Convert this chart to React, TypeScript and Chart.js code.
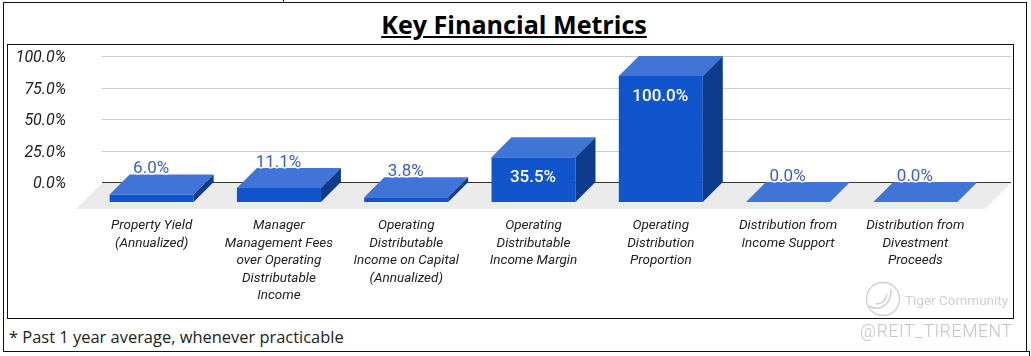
import React, { useEffect, useRef } from "react";
import { Chart, registerables } from "chart.js";

Chart.register(...registerables);

const categories: string[][] = [
  ["Property Yield", "(Annualized)"],
  ["Manager", "Management Fees", "over Operating", "Distributable", "Income"],
  ["Operating", "Distributable", "Income on Capital", "(Annualized)"],
  ["Operating", "Distributable", "Income Margin"],
  ["Operating", "Distribution", "Proportion"],
  ["Distribution from", "Income Support"],
  ["Distribution from", "Divestment", "Proceeds"],
];
const metricValues: number[] = [6.0, 11.1, 3.8, 35.5, 100.0, 0.0, 0.0];
const yTicks: number[] = [0, 25, 50, 75, 100];

const FRONT = "#1155cc";
const TOP = "#4074d6";
const SIDE = "#0d3c8c";
const DEPTH = 20;
const BOX_LEFT = 8;
const BOX_TOP = 45;

const threeD = {
  id: "threeD",
  beforeDatasetsDraw(chart: any) {
    const { ctx, chartArea: a, scales } = chart;
    const y0 = scales.y.getPixelForValue(0);
    ctx.save();
    // back-wall gridlines
    yTicks.forEach((t) => {
      const y = Math.round(scales.y.getPixelForValue(t)) + 0.5;
      ctx.strokeStyle = t === 0 ? "#333333" : "#cccccc";
      ctx.lineWidth = 1;
      ctx.beginPath();
      ctx.moveTo(a.left + 14, y);
      ctx.lineTo(a.right + 32, y);
      ctx.stroke();
    });
    // floor
    ctx.fillStyle = "#ebebeb";
    ctx.beginPath();
    ctx.moveTo(a.left + 14, y0 + 1);
    ctx.lineTo(a.right + 32, y0 + 1);
    ctx.lineTo(a.right + 6, y0 + 27);
    ctx.lineTo(a.left - 12, y0 + 27);
    ctx.closePath();
    ctx.fill();
    ctx.restore();
    ctx.save();
    ctx.translate(0, DEPTH);
  },
  afterDatasetsDraw(chart: any) {
    const { ctx } = chart;
    ctx.restore();
    const meta = chart.getDatasetMeta(0);
    meta.data.forEach((bar: any, i: number) => {
      const half = bar.width / 2;
      const x0 = bar.x - half;
      const x1 = bar.x + half;
      const yt = bar.y + DEPTH;
      const yb = bar.base + DEPTH;
      ctx.fillStyle = TOP;
      ctx.beginPath();
      ctx.moveTo(x0, yt);
      ctx.lineTo(x1, yt);
      ctx.lineTo(x1 + DEPTH, yt - DEPTH);
      ctx.lineTo(x0 + DEPTH, yt - DEPTH);
      ctx.closePath();
      ctx.fill();
      if (yb - yt > 0.5) {
        ctx.fillStyle = SIDE;
        ctx.beginPath();
        ctx.moveTo(x1, yt);
        ctx.lineTo(x1 + DEPTH, yt - DEPTH);
        ctx.lineTo(x1 + DEPTH, yb - DEPTH);
        ctx.lineTo(x1, yb);
        ctx.closePath();
        ctx.fill();
      }
      const v = metricValues[i];
      const text = v.toFixed(1) + "%";
      ctx.textAlign = "center";
      ctx.lineJoin = "round";
      if (v >= 30) {
        ctx.font = "500 17px Roboto";
        ctx.textBaseline = "middle";
        ctx.fillStyle = "#ffffff";
        ctx.fillText(text, bar.x - 0.5, yt + 20.5);
      } else {
        ctx.font = "17px Roboto";
        ctx.textBaseline = "alphabetic";
        const ty = yt - DEPTH - 1.5;
        ctx.strokeStyle = "#ffffff";
        ctx.lineWidth = 3;
        ctx.strokeText(text, bar.x - 0.5, ty);
        ctx.fillStyle = "#3a5fc8";
        ctx.fillText(text, bar.x - 0.5, ty);
      }
    });
  },
};

export default function App() {
  const ref = useRef<HTMLCanvasElement | null>(null);
  useEffect(() => {
    const chart = new Chart(ref.current as HTMLCanvasElement, {
      type: "bar",
      data: {
        labels: categories,
        datasets: [
          {
            label: "Key Financial Metrics",
            data: metricValues,
            backgroundColor: FRONT,
            borderWidth: 0,
            barPercentage: 1,
            categoryPercentage: 84 / 127.3,
            clip: false as any,
          },
        ],
      },
      options: {
        animation: false,
        responsive: false,
        layout: { padding: { top: 56 - BOX_TOP, right: 34, bottom: 0, left: 0 } },
        plugins: { legend: { display: false }, tooltip: { enabled: false } },
        scales: {
          x: {
            grid: { display: false, drawTicks: false },
            border: { display: false },
            afterFit: (s: any) => {
              s.height = 318 - 182;
              s.paddingLeft = 0;
              s.paddingRight = 0;
            },
            ticks: {
              autoSkip: false,
              maxRotation: 0,
              minRotation: 0,
              padding: 35,
              color: "#222222",
              font: { family: "Roboto", size: 13.5, style: "italic", lineHeight: 1.3 },
            },
          },
          y: {
            min: 0,
            max: 100,
            afterBuildTicks: (s: any) => {
              s.ticks = yTicks.map((value) => ({ value }));
            },
            grid: { display: false, drawTicks: false },
            border: { display: false },
            afterFit: (s: any) => {
              s.width = 88 - BOX_LEFT;
              s.paddingTop = 0;
              s.paddingBottom = 0;
            },
            ticks: {
              padding: 22,
              labelOffset: 2,
              color: "#222222",
              font: { family: "Roboto", size: 16, style: "italic" },
              callback: (v: any) => Number(v).toFixed(1) + "%",
            },
          },
        },
      },
      plugins: [threeD],
    });
    return () => chart.destroy();
  }, []);

  const line = (l: number, t: number, w: number, h: number): React.CSSProperties => ({
    position: "absolute",
    left: l,
    top: t,
    width: w,
    height: h,
    background: "#111",
  });

  return (
    <div style={{ position: "absolute", left: 0, top: 0, width: 1031, height: 356, background: "#fff", overflow: "hidden" }}>
      <div style={line(3, 2, 1024, 1)} />
      <div style={line(3, 351, 1027, 1)} />
      <div style={line(3, 2, 1, 350)} />
      <div style={line(1026, 2, 1, 350)} />
      <div style={line(283, 0, 1, 2)} />
      <div style={line(1029, 351, 1, 5)} />
      <div style={line(7, 44, 1007, 1)} />
      <div style={line(7, 318, 1007, 1)} />
      <div style={line(7, 44, 1, 275)} />
      <div style={line(1013, 44, 1, 275)} />
      <div
        style={{
          position: "absolute",
          left: 0,
          width: 1028,
          top: 7,
          textAlign: "center",
          fontFamily: "'Open Sans'",
          fontWeight: 700,
          fontSize: 25.1,
          lineHeight: "34px",
          color: "#000",
          textDecoration: "underline",
        }}
      >
        Key Financial Metrics
      </div>
      <div
        style={{
          position: "absolute",
          left: 9,
          top: 326,
          fontFamily: "'Open Sans'",
          fontSize: 16.45,
          lineHeight: "22px",
          color: "#222",
        }}
      >
        * Past 1 year average, whenever practicable
      </div>
      <div style={{ position: "absolute", left: BOX_LEFT, top: BOX_TOP }}>
        <canvas ref={ref} width={1005} height={273} style={{ display: "block" }} />
      </div>
      <svg style={{ position: "absolute", left: 864, top: 280 }} width={38} height={38}>
        <circle cx={19} cy={19} r={16.5} fill="none" stroke="#cfcfcf" strokeWidth={1.3} />
        <path d="M5 26 C16 32 28 24 27 9 M12 24 C18 24 22 20 23 14" fill="none" stroke="#cfcfcf" strokeWidth={1.5} />
      </svg>
      <div style={{ position: "absolute", left: 905, top: 292, fontFamily: "Roboto", fontSize: 13.5, color: "#d0d0d0", whiteSpace: "nowrap" }}>
        Tiger Community
      </div>
      <div style={{ position: "absolute", left: 860, top: 321, fontFamily: "Roboto", fontWeight: 300, fontSize: 17.6, letterSpacing: 0.6, color: "#c4c4c4", whiteSpace: "nowrap" }}>
        @REIT_TIREMENT
      </div>
    </div>
  );
}
